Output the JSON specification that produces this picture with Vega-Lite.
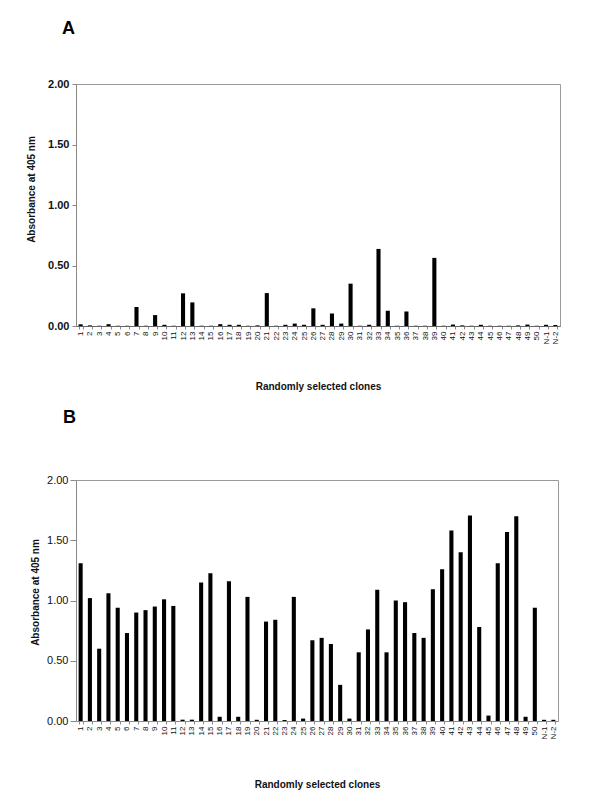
{
  "$schema": "https://vega.github.io/schema/vega-lite/v6.json",
  "padding": {"top": 19, "left": 26, "right": 5, "bottom": 5},
  "background": "white",
  "config": {
    "font": "Liberation Sans",
    "view": {"stroke": "#9a9a9a", "strokeWidth": 1},
    "title": {"fontSize": 18, "fontWeight": "bold", "anchor": "start", "color": "black", "frame": "group"},
    "axis": {"grid": false, "domainColor": "#8a8a8a", "tickColor": "#8a8a8a", "labelColor": "#111", "titleColor": "#111"}
  },
  "datasets": {
    "A": [
      {"clone": "1", "v": 0.014}, {"clone": "2", "v": 0.005}, {"clone": "3", "v": 0.002}, {"clone": "4", "v": 0.015},
      {"clone": "5", "v": 0.002}, {"clone": "6", "v": 0.002}, {"clone": "7", "v": 0.157}, {"clone": "8", "v": 0.002},
      {"clone": "9", "v": 0.09}, {"clone": "10", "v": 0.01}, {"clone": "11", "v": 0.002}, {"clone": "12", "v": 0.27},
      {"clone": "13", "v": 0.195}, {"clone": "14", "v": 0.002}, {"clone": "15", "v": 0.002}, {"clone": "16", "v": 0.015},
      {"clone": "17", "v": 0.01}, {"clone": "18", "v": 0.01}, {"clone": "19", "v": 0.002}, {"clone": "20", "v": 0.005},
      {"clone": "21", "v": 0.272}, {"clone": "22", "v": 0.002}, {"clone": "23", "v": 0.01}, {"clone": "24", "v": 0.02},
      {"clone": "25", "v": 0.01}, {"clone": "26", "v": 0.146}, {"clone": "27", "v": 0.01}, {"clone": "28", "v": 0.104},
      {"clone": "29", "v": 0.02}, {"clone": "30", "v": 0.35}, {"clone": "31", "v": 0.002}, {"clone": "32", "v": 0.01},
      {"clone": "33", "v": 0.637}, {"clone": "34", "v": 0.126}, {"clone": "35", "v": 0.002}, {"clone": "36", "v": 0.12},
      {"clone": "37", "v": 0.002}, {"clone": "38", "v": 0.002}, {"clone": "39", "v": 0.563}, {"clone": "40", "v": 0.002},
      {"clone": "41", "v": 0.012}, {"clone": "42", "v": 0.005}, {"clone": "43", "v": 0.002}, {"clone": "44", "v": 0.01},
      {"clone": "45", "v": 0.002}, {"clone": "46", "v": 0.002}, {"clone": "47", "v": 0.002}, {"clone": "48", "v": 0.005},
      {"clone": "49", "v": 0.012}, {"clone": "50", "v": 0.002}, {"clone": "N-1", "v": 0.01}, {"clone": "N-2", "v": 0.008}
    ],
    "B": [
      {"clone": "1", "v": 1.31}, {"clone": "2", "v": 1.02}, {"clone": "3", "v": 0.6}, {"clone": "4", "v": 1.06},
      {"clone": "5", "v": 0.94}, {"clone": "6", "v": 0.73}, {"clone": "7", "v": 0.9}, {"clone": "8", "v": 0.92},
      {"clone": "9", "v": 0.95}, {"clone": "10", "v": 1.01}, {"clone": "11", "v": 0.955}, {"clone": "12", "v": 0.011},
      {"clone": "13", "v": 0.011}, {"clone": "14", "v": 1.15}, {"clone": "15", "v": 1.227}, {"clone": "16", "v": 0.035},
      {"clone": "17", "v": 1.16}, {"clone": "18", "v": 0.035}, {"clone": "19", "v": 1.03}, {"clone": "20", "v": 0.01},
      {"clone": "21", "v": 0.825}, {"clone": "22", "v": 0.84}, {"clone": "23", "v": 0.008}, {"clone": "24", "v": 1.03},
      {"clone": "25", "v": 0.02}, {"clone": "26", "v": 0.67}, {"clone": "27", "v": 0.69}, {"clone": "28", "v": 0.64},
      {"clone": "29", "v": 0.3}, {"clone": "30", "v": 0.02}, {"clone": "31", "v": 0.57}, {"clone": "32", "v": 0.76},
      {"clone": "33", "v": 1.09}, {"clone": "34", "v": 0.57}, {"clone": "35", "v": 1.0}, {"clone": "36", "v": 0.986},
      {"clone": "37", "v": 0.73}, {"clone": "38", "v": 0.69}, {"clone": "39", "v": 1.094}, {"clone": "40", "v": 1.26},
      {"clone": "41", "v": 1.58}, {"clone": "42", "v": 1.4}, {"clone": "43", "v": 1.706}, {"clone": "44", "v": 0.78},
      {"clone": "45", "v": 0.045}, {"clone": "46", "v": 1.31}, {"clone": "47", "v": 1.568}, {"clone": "48", "v": 1.7},
      {"clone": "49", "v": 0.035}, {"clone": "50", "v": 0.94}, {"clone": "N-1", "v": 0.01}, {"clone": "N-2", "v": 0.01}
    ]
  },
  "vconcat": [
    {
      "title": {"text": "A", "offset": 40, "dx": -14},
      "data": {"name": "A"},
      "width": 484,
      "height": 242,
      "mark": {"type": "bar", "color": "black"},
      "encoding": {
        "x": {
          "field": "clone", "type": "nominal", "sort": null,
          "scale": {"paddingInner": 0.56, "paddingOuter": 0.28},
          "axis": {"title": "Randomly selected clones", "titleFontSize": 10, "titleFontWeight": "bold", "titlePadding": 38,
                   "labelAngle": -90, "labelFontSize": 8, "labelPadding": 2, "tickSize": 3, "tickBand": "extent", "domainColor": "#666"}
        },
        "y": {
          "field": "v", "type": "quantitative",
          "scale": {"domain": [0, 2], "nice": false},
          "axis": {"title": "Absorbance at 405 nm", "titleFontSize": 10, "titleFontWeight": "bold", "titlePadding": 11, "titleY": 105,
                   "values": [0, 0.5, 1, 1.5, 2], "format": ".2f", "labelFontSize": 11, "labelFontWeight": "bold",
                   "labelPadding": 3, "tickSize": 4}
        }
      }
    },
    {
      "title": {"text": "B", "offset": 47, "dx": -13},
      "data": {"name": "B"},
      "width": 482,
      "height": 241,
      "mark": {"type": "bar", "color": "black"},
      "encoding": {
        "x": {
          "field": "clone", "type": "nominal", "sort": null,
          "scale": {"paddingInner": 0.56, "paddingOuter": 0.28},
          "axis": {"title": "Randomly selected clones", "titleFontSize": 10, "titleFontWeight": "bold", "titlePadding": 41,
                   "labelAngle": -90, "labelFontSize": 8, "labelPadding": 2, "tickSize": 3, "tickBand": "extent"}
        },
        "y": {
          "field": "v", "type": "quantitative",
          "scale": {"domain": [0, 2], "nice": false},
          "axis": {"title": "Absorbance at 405 nm", "titleFontSize": 10, "titleFontWeight": "bold", "titlePadding": 6, "titleY": 112,
                   "values": [0, 0.5, 1, 1.5, 2], "format": ".2f", "labelFontSize": 11,
                   "labelPadding": 2, "tickSize": 6}
        }
      }
    }
  ],
  "align": "none",
  "spacing": 15
}
